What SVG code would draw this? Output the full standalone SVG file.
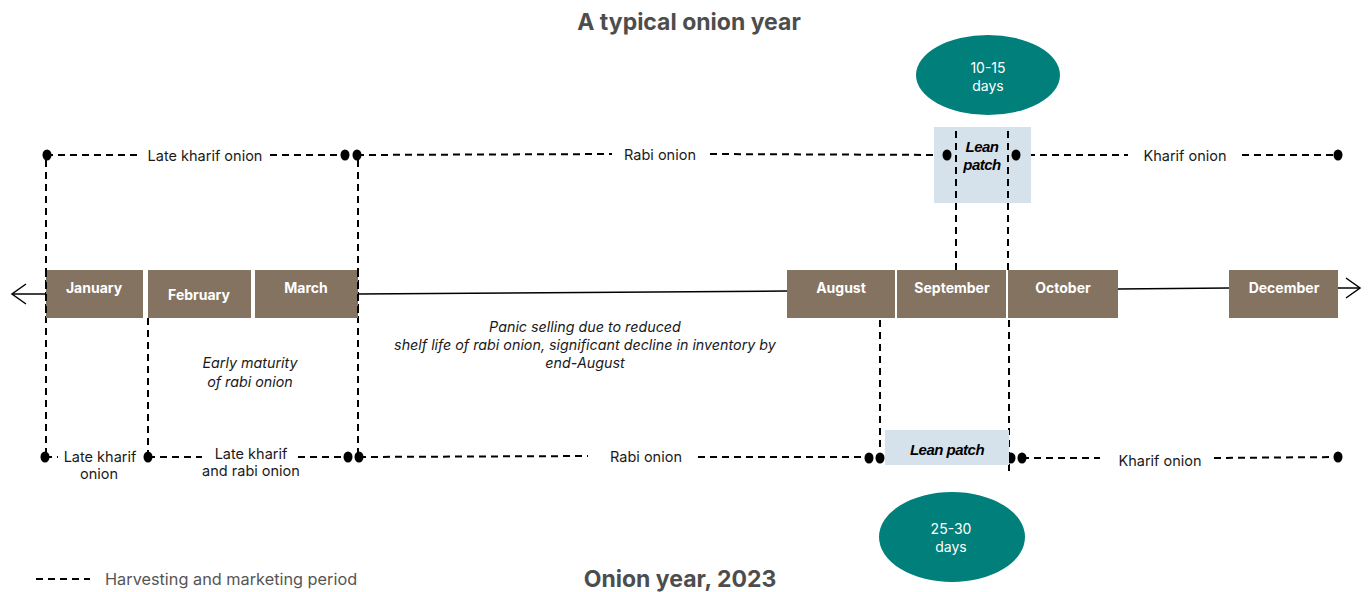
<svg xmlns="http://www.w3.org/2000/svg" width="1369" height="592" viewBox="0 0 1369 592">
  <defs>
    <style>
      .title { font-family: Inter, "Liberation Sans", sans-serif; font-weight: bold; font-size: 23px; fill: #4d4d4d; text-anchor: middle; }
      .month rect { fill: #857362; }
      .month text { font-family: Inter, "Liberation Sans", sans-serif; font-weight: bold; font-size: 14px; fill: #ffffff; text-anchor: middle; dominant-baseline: central; }
      .lbl { font-family: Inter, "Liberation Sans", sans-serif; font-size: 14.5px; fill: #1a1a1a; text-anchor: middle; dominant-baseline: central; }
      .note { font-family: Inter, "Liberation Sans", sans-serif; font-style: italic; font-size: 14.3px; fill: #1a1a1a; text-anchor: middle; dominant-baseline: central; }
      .lean rect { fill: #d6e2eb; }
      .lean text { font-family: "Liberation Sans", Arial, sans-serif; font-weight: bold; font-style: italic; font-size: 15px; fill: #000; text-anchor: middle; dominant-baseline: central; letter-spacing: -0.5px; }
      .bubble ellipse { fill: #007f7b; }
      .bubble text { font-family: Inter, "Liberation Sans", sans-serif; font-size: 14px; fill: #ffffff; text-anchor: middle; dominant-baseline: central; }
      .dash { stroke: #000; stroke-width: 2; stroke-dasharray: 7 5; fill: none; }
      .solid { stroke: #000; stroke-width: 1.5; fill: none; }
      .dot { fill: #000; }
      .legend { font-family: Inter, "Liberation Sans", sans-serif; font-size: 16.3px; fill: #555; dominant-baseline: central; }
    </style>
  </defs>

  <rect width="1369" height="592" fill="#ffffff"/>

  <text class="title" x="689" y="30">A typical onion year</text>
  <text class="title" x="680" y="587">Onion year, 2023</text>

  <!-- timeline axis and period connectors -->
  <g id="connectors">
    <!-- main axis -->
    <line class="solid" x1="12" y1="294" x2="46" y2="294"/>
    <polyline class="solid" points="26,284 12,294 26,304"/>
    <line class="solid" x1="358" y1="294" x2="787" y2="291"/>
    <line class="solid" x1="1118" y1="289" x2="1229" y2="288"/>
    <line class="solid" x1="1338" y1="288" x2="1360" y2="288"/>
    <polyline class="solid" points="1346,278 1360,288 1346,298"/>

    <!-- typical year: upper row -->
    <line class="dash" x1="46" y1="155" x2="140" y2="155"/>
    <line class="dash" x1="270" y1="155" x2="345" y2="155"/>
    <line class="dash" x1="357" y1="155" x2="612" y2="154"/>
    <line class="dash" x1="710" y1="154" x2="946" y2="155"/>
    <line class="dash" x1="1016" y1="155" x2="1128" y2="155"/>
    <line class="dash" x1="1242" y1="155" x2="1338" y2="155"/>
    <ellipse class="dot" cx="47" cy="155" rx="4.5" ry="5.5"/>
    <ellipse class="dot" cx="345" cy="155" rx="4.5" ry="5.5"/>
    <ellipse class="dot" cx="357" cy="155" rx="4.5" ry="5.5"/>
    <ellipse class="dot" cx="1338" cy="155" rx="4.5" ry="5.5"/>

    <!-- 2023: lower row -->
    <line class="dash" x1="45" y1="457" x2="58" y2="457"/>
    <line class="dash" x1="148" y1="457" x2="202" y2="457"/>
    <line class="dash" x1="298" y1="457" x2="348" y2="457"/>
    <line class="dash" x1="359" y1="457" x2="588" y2="456"/>
    <line class="dash" x1="698" y1="457" x2="868" y2="457"/>
    <line class="dash" x1="1022" y1="458" x2="1100" y2="458"/>
    <line class="dash" x1="1214" y1="458" x2="1338" y2="457"/>
    <ellipse class="dot" cx="45" cy="457" rx="4.5" ry="5.5"/>
    <ellipse class="dot" cx="148" cy="457" rx="4.5" ry="5.5"/>
    <ellipse class="dot" cx="348" cy="457" rx="4.5" ry="5.5"/>
    <ellipse class="dot" cx="359" cy="457" rx="4.5" ry="5.5"/>
    <ellipse class="dot" cx="869" cy="458" rx="4.5" ry="5.5"/>
    <ellipse class="dot" cx="880" cy="458" rx="4.5" ry="5.5"/>
    <ellipse class="dot" cx="1011" cy="458" rx="4.5" ry="5.5"/>
    <ellipse class="dot" cx="1022" cy="458" rx="4.5" ry="5.5"/>
    <ellipse class="dot" cx="1338" cy="457" rx="4.5" ry="5.5"/>

    <!-- vertical period markers -->
    <line class="dash" x1="46" y1="160" x2="46" y2="452"/>
    <line class="dash" x1="358" y1="160" x2="358" y2="452"/>
    <line class="dash" x1="148" y1="318" x2="148" y2="452"/>
    <line class="dash" x1="956" y1="131" x2="956" y2="270"/>
    <line class="dash" x1="1008" y1="131" x2="1008" y2="270"/>
    <line class="dash" x1="880" y1="320" x2="880" y2="452"/>
    <line class="dash" x1="1009" y1="320" x2="1009" y2="476"/>
  </g>

  <!-- lean patch highlight boxes -->
  <g id="lean-top" class="lean">
    <rect x="934" y="127" width="97" height="76"/>
    <line class="dash" x1="956" y1="131" x2="956" y2="203"/>
    <line class="dash" x1="1008" y1="131" x2="1008" y2="203"/>
    <ellipse class="dot" cx="947" cy="155" rx="4.5" ry="5.5"/>
    <ellipse class="dot" cx="1016" cy="155" rx="4.5" ry="5.5"/>
    <text x="982" y="146">Lean</text>
    <text x="982" y="164">patch</text>
  </g>
  <g id="lean-bottom" class="lean">
    <rect x="885" y="430" width="124" height="35"/>
    <text x="947" y="449">Lean patch</text>
  </g>

  <!-- month blocks -->
  <g id="m-jan" class="month"><rect x="46" y="270" width="97" height="48"/><text x="94" y="287">January</text></g>
  <g id="m-feb" class="month"><rect x="148" y="270" width="103" height="48"/><text x="199" y="294">February</text></g>
  <g id="m-mar" class="month"><rect x="255" y="270" width="103" height="48"/><text x="306" y="287">March</text></g>
  <g id="m-aug" class="month"><rect x="787" y="270" width="108" height="48"/><text x="841" y="287">August</text></g>
  <g id="m-sep" class="month"><rect x="897" y="270" width="109" height="48"/><text x="952" y="287">September</text></g>
  <g id="m-oct" class="month"><rect x="1008" y="270" width="110" height="48"/><text x="1063" y="287">October</text></g>
  <g id="m-dec" class="month"><rect x="1229" y="270" width="109" height="48"/><text x="1284" y="287">December</text></g>

  <!-- month-edge dashes drawn over the blocks -->
  <g id="edge-marks">
    <line class="dash" x1="46" y1="270" x2="46" y2="318"/>
    <line class="dash" x1="358" y1="270" x2="358" y2="318"/>
  </g>

  <!-- period labels -->
  <g id="lbl-top-late-kharif"><text class="lbl" x="205" y="155">Late kharif onion</text></g>
  <g id="lbl-top-rabi"><text class="lbl" x="660" y="154">Rabi onion</text></g>
  <g id="lbl-top-kharif"><text class="lbl" x="1185" y="155">Kharif onion</text></g>

  <g id="lbl-bot-late-kharif"><text class="lbl" x="100" y="456">Late kharif</text><text class="lbl" x="99" y="473">onion</text></g>
  <g id="lbl-bot-mixed"><text class="lbl" x="251" y="453">Late kharif</text><text class="lbl" x="251" y="470">and rabi onion</text></g>
  <g id="lbl-bot-rabi"><text class="lbl" x="646" y="456">Rabi onion</text></g>
  <g id="lbl-bot-kharif"><text class="lbl" x="1160" y="460">Kharif onion</text></g>

  <!-- notes -->
  <g id="note-early">
    <text class="note" x="250" y="362">Early maturity</text>
    <text class="note" x="250" y="381">of rabi onion</text>
  </g>
  <g id="note-panic">
    <text class="note" x="585" y="326">Panic selling due to reduced</text>
    <text class="note" x="585" y="344">shelf life of rabi onion, significant decline in inventory by</text>
    <text class="note" x="585" y="362">end-August</text>
  </g>

  <!-- duration bubbles -->
  <g id="bubble-top" class="bubble">
    <ellipse cx="988" cy="75" rx="72" ry="40"/>
    <text x="988" y="67">10-15</text>
    <text x="988" y="85">days</text>
  </g>
  <g id="bubble-bottom" class="bubble">
    <ellipse cx="952" cy="537" rx="73" ry="45"/>
    <text x="951" y="528">25-30</text>
    <text x="951" y="546">days</text>
  </g>

  <!-- legend -->
  <g id="legend">
    <line class="dash" x1="36" y1="579" x2="90" y2="579" stroke-dasharray="10 8"/>
    <text class="legend" x="105" y="579">Harvesting and marketing period</text>
  </g>
</svg>
